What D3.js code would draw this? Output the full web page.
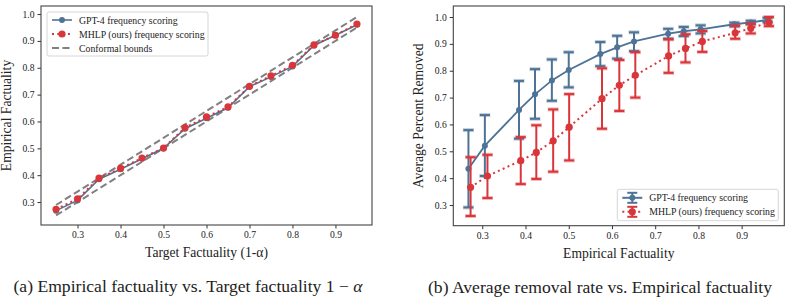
<!DOCTYPE html>
<head>
  <meta charset="utf-8">
  <script src="https://d3js.org/d3.v7.min.js"></script>
  <style>
    body { margin: 0; background: #fff; font-family: "Liberation Serif", "DejaVu Serif", serif; }
    svg text { fill: #222; font-family: "Liberation Serif", serif; }
  </style>
</head>
<body>
  <svg id="chart" width="791" height="301"></svg>
  <script>
    // target factuality (1-alpha)
    var targets = [0.25, 0.30, 0.35, 0.40, 0.45, 0.50, 0.55, 0.60, 0.65, 0.70, 0.75, 0.80, 0.85, 0.90, 0.95];
    var gptEmp = [0.268, 0.306, 0.385, 0.422, 0.461, 0.500, 0.573, 0.612, 0.651, 0.730, 0.766, 0.805, 0.883, 0.921, 0.960];
    var mhlpEmp = [0.273, 0.312, 0.389, 0.425, 0.464, 0.501, 0.577, 0.617, 0.654, 0.731, 0.770, 0.809, 0.885, 0.921, 0.963];
    var boundLow = [0.25, 0.30, 0.35, 0.40, 0.45, 0.50, 0.55, 0.60, 0.65, 0.70, 0.75, 0.80, 0.85, 0.90, 0.95];
    var boundHigh = [0.289, 0.339, 0.389, 0.439, 0.489, 0.539, 0.589, 0.639, 0.689, 0.739, 0.789, 0.839, 0.889, 0.939, 0.989];

    // average percent removed (mean, lower, upper)
    var gptRemoved = [0.435, 0.521, 0.654, 0.712, 0.764, 0.803, 0.862, 0.887, 0.909, 0.938, 0.947, 0.954, 0.973, 0.980, 0.989];
    var gptLo = [0.291, 0.408, 0.547, 0.621, 0.688, 0.738, 0.817, 0.845, 0.873, 0.919, 0.929, 0.939, 0.965, 0.973, 0.981];
    var gptHi = [0.579, 0.635, 0.762, 0.806, 0.842, 0.869, 0.907, 0.930, 0.943, 0.956, 0.963, 0.969, 0.979, 0.986, 0.997];
    var mhlpRemoved = [0.366, 0.408, 0.465, 0.496, 0.539, 0.590, 0.696, 0.746, 0.783, 0.855, 0.883, 0.909, 0.941, 0.958, 0.980];
    var mhlpLo = [0.259, 0.326, 0.378, 0.397, 0.424, 0.466, 0.584, 0.650, 0.700, 0.792, 0.831, 0.870, 0.919, 0.939, 0.966];
    var mhlpHi = [0.478, 0.487, 0.553, 0.597, 0.656, 0.713, 0.809, 0.840, 0.869, 0.917, 0.936, 0.948, 0.968, 0.975, 1.000];

    var ticksX = [0.3, 0.4, 0.5, 0.6, 0.7, 0.8, 0.9];
    var ticksY = [0.3, 0.4, 0.5, 0.6, 0.7, 0.8, 0.9, 1.0];

    var blue = "#4e7396";
    var red = "#d9363b";
    var grey = "#808080";

    var svg = d3.select("#chart");

    function frame(g, x, y, w, h, xlabel, ylabel, caption, capX, capItalic) {
      var fmt = d3.format(".1f");
      g.append("g").attr("transform", "translate(0," + h + ")")
        .call(d3.axisBottom(x).tickValues(ticksX).tickSize(3.5).tickPadding(3).tickFormat(fmt))
        .call(s => s.select(".domain").remove());
      g.append("g")
        .call(d3.axisLeft(y).tickValues(ticksY).tickSize(3.5).tickPadding(3).tickFormat(fmt))
        .call(s => s.select(".domain").remove());
      g.selectAll(".tick text").attr("font-family", "Liberation Serif").attr("font-size", 9.6).attr("fill", "#222");
      g.selectAll(".tick line").attr("stroke", "#333");
      g.append("rect").attr("width", w).attr("height", h)
        .attr("fill", "none").attr("stroke", "#444").attr("stroke-width", 1.1);
      g.append("text").attr("x", w / 2).attr("y", h + 32).attr("text-anchor", "middle")
        .attr("font-size", 13.6).text(xlabel);
      g.append("text").attr("transform", "translate(-30," + h / 2 + ") rotate(-90)")
        .attr("text-anchor", "middle").attr("font-size", 13.6).text(ylabel);
      var cap = g.append("text").attr("x", capX).attr("y", h + 67).attr("text-anchor", "middle")
        .attr("font-size", 17.6);
      cap.append("tspan").text(caption);
      if (capItalic) cap.append("tspan").attr("font-style", "italic").text(capItalic);
    }

    // ---- panel (a)
    var wA = 331, hA = 219;
    var gA = svg.append("g").attr("transform", "translate(41,6)");
    var xA = d3.scaleLinear().domain([0.215, 0.985]).range([0, wA]);
    var yA = d3.scaleLinear().domain([0.2145, 1.03]).range([hA, 0]);

    var lineA = d3.line().x(d => xA(d[0])).y(d => yA(d[1]));
    [boundLow, boundHigh].forEach(function (b) {
      gA.append("path").datum(d3.zip(targets, b)).attr("d", lineA)
        .attr("fill", "none").attr("stroke", grey).attr("stroke-width", 2).attr("stroke-dasharray", "7,3.5");
    });
    gA.append("path").datum(d3.zip(targets, gptEmp)).attr("d", lineA)
      .attr("fill", "none").attr("stroke", blue).attr("stroke-width", 1.6);
    gA.selectAll(".pg").data(d3.zip(targets, gptEmp)).join("circle")
      .attr("cx", d => xA(d[0])).attr("cy", d => yA(d[1])).attr("r", 3).attr("fill", blue);
    gA.append("path").datum(d3.zip(targets, mhlpEmp)).attr("d", lineA)
      .attr("fill", "none").attr("stroke", red).attr("stroke-width", 2).attr("stroke-dasharray", "2,3.3");
    gA.selectAll(".pm").data(d3.zip(targets, mhlpEmp)).join("circle")
      .attr("cx", d => xA(d[0])).attr("cy", d => yA(d[1])).attr("r", 3.6).attr("fill", red);

    frame(gA, xA, yA, wA, hA, "Target Factuality (1-α)", "Empirical Factuality",
      "(a) Empirical factuality vs. Target factuality 1 − ", 147, "α");

    // legend (a)
    var lA = gA.append("g").attr("transform", "translate(6,6)");
    lA.append("rect").attr("width", 161).attr("height", 44).attr("rx", 2)
      .attr("fill", "#fff").attr("fill-opacity", 0.85).attr("stroke", "#ccc").attr("stroke-width", 0.8);
    var itemsA = [
      { label: "GPT-4 frequency scoring", color: blue, dash: null, r: 3, sw: 1.6 },
      { label: "MHLP (ours) frequency scoring", color: red, dash: "2,3.3", r: 3.6, sw: 2 },
      { label: "Conformal bounds", color: grey, dash: "7,3.5", r: 0, sw: 2 }
    ];
    itemsA.forEach(function (it, i) {
      var yy = 8 + i * 14;
      lA.append("line").attr("x1", 5).attr("x2", 25).attr("y1", yy).attr("y2", yy)
        .attr("stroke", it.color).attr("stroke-width", it.sw).attr("stroke-dasharray", it.dash);
      if (it.r) lA.append("circle").attr("cx", 15).attr("cy", yy).attr("r", it.r).attr("fill", it.color);
      lA.append("text").attr("x", 32).attr("y", yy + 3.5).attr("font-size", 9.8).text(it.label);
    });

    // ---- panel (b)
    var wB = 331, hB = 219.7;
    var gB = svg.append("g").attr("transform", "translate(453.3,6)");
    var xB = d3.scaleLinear().domain([0.233, 0.9986]).range([0, wB]);
    var yB = d3.scaleLinear().domain([0.223, 1.041]).range([hB, 0]);
    var lineB = d3.line().x(d => xB(d[0])).y(d => yB(d[1]));

    function errSeries(xs, ms, lo, hi, color, dash, r, cls) {
      var rows = xs.map((x, i) => ({ x: x, m: ms[i], lo: lo[i], hi: hi[i] }));
      var eg = gB.append("g");
      rows.forEach(function (d) {
        var cx = xB(d.x);
        eg.append("line").attr("x1", cx).attr("x2", cx).attr("y1", yB(d.lo)).attr("y2", yB(d.hi))
          .attr("stroke", color).attr("stroke-width", 2);
        [d.lo, d.hi].forEach(function (v) {
          eg.append("line").attr("x1", cx - 5.5).attr("x2", cx + 5.5).attr("y1", yB(v)).attr("y2", yB(v))
            .attr("stroke", color).attr("stroke-opacity", 0.35).attr("stroke-width", 4);
          eg.append("line").attr("x1", cx - 5).attr("x2", cx + 5).attr("y1", yB(v)).attr("y2", yB(v))
            .attr("stroke", color).attr("stroke-width", 2);
        });
      });
      gB.append("path").datum(rows.map(d => [d.x, d.m])).attr("d", lineB)
        .attr("fill", "none").attr("stroke", color).attr("stroke-width", dash ? 2 : 1.8)
        .attr("stroke-dasharray", dash);
      gB.selectAll("." + cls).data(rows).join("circle")
        .attr("cx", d => xB(d.x)).attr("cy", d => yB(d.m)).attr("r", r).attr("fill", color);
    }
    errSeries(gptEmp, gptRemoved, gptLo, gptHi, blue, null, 3, "bm");
    errSeries(mhlpEmp, mhlpRemoved, mhlpLo, mhlpHi, red, "2,3.3", 3.6, "rm");

    frame(gB, xB, yB, wB, hB, "Empirical Factuality", "Average Percent Removed",
      "(b) Average removal rate vs. Empirical factuality", 146.7, null);

    // legend (b)
    var lB = gB.append("g").attr("transform", "translate(164,183.3)");
    lB.append("rect").attr("width", 161).attr("height", 31.4).attr("rx", 2)
      .attr("fill", "#fff").attr("fill-opacity", 0.85).attr("stroke", "#ccc").attr("stroke-width", 0.8);
    var itemsB = [
      { label: "GPT-4 frequency scoring", color: blue, dash: null, r: 3 },
      { label: "MHLP (ours) frequency scoring", color: red, dash: "2,3.3", r: 3.6 }
    ];
    itemsB.forEach(function (it, i) {
      var yy = 8.5 + i * 14;
      lB.append("line").attr("x1", 5).attr("x2", 25).attr("y1", yy).attr("y2", yy)
        .attr("stroke", it.color).attr("stroke-width", 2).attr("stroke-dasharray", it.dash);
      lB.append("line").attr("x1", 15).attr("x2", 15).attr("y1", yy - 5).attr("y2", yy + 5)
        .attr("stroke", it.color).attr("stroke-width", 2);
      [yy - 5, yy + 5].forEach(function (cy) {
        lB.append("line").attr("x1", 10).attr("x2", 20).attr("y1", cy).attr("y2", cy)
          .attr("stroke", it.color).attr("stroke-width", 2);
      });
      lB.append("circle").attr("cx", 15).attr("cy", yy).attr("r", it.r).attr("fill", it.color);
      lB.append("text").attr("x", 32).attr("y", yy + 3.5).attr("font-size", 9.8).text(it.label);
    });
  </script>
</body>
